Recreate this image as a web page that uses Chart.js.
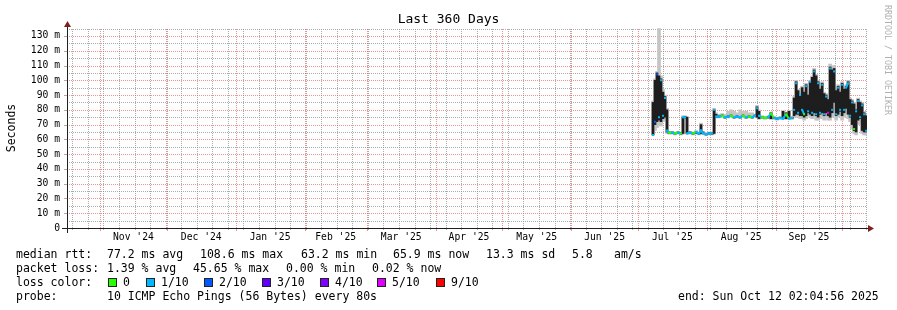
<!DOCTYPE html>
<html>
<head>
<meta charset="utf-8">
<title>Last 360 Days</title>
<script src="https://cdn.jsdelivr.net/npm/chart.js@4.4.1/dist/chart.umd.min.js"></script>
<style>
  html, body { margin: 0; padding: 0; background: #fff; }
  #chart { display: block; }
</style>
</head>
<body>
<canvas id="chart" width="897" height="310"></canvas>
<script>
// days since the start of the graph (Oct 17 2024 02:04)
const days = [
  263.7, 264.6, 265.5, 266.4, 267.3, 268.2, 269.1, 270.0, 270.9, 272.3,
  273.6, 275.0, 276.3, 277.2, 278.1, 279.0, 280.4, 281.7, 283.1, 284.4,
  285.3, 286.2, 287.6, 288.9, 290.3, 291.2, 292.1, 293.4, 294.8, 296.1,
  297.5, 298.8, 300.2, 301.5, 302.9, 304.2, 305.6, 306.9, 308.3, 309.6,
  310.5, 311.4, 312.8, 314.1, 315.5, 316.8, 318.2, 319.5, 320.9, 322.2,
  323.6, 324.9, 326.3, 327.2, 328.1, 329.0, 329.9, 330.8, 331.7, 332.6,
  333.5, 334.4, 335.3, 336.2, 337.1, 338.0, 338.9, 339.8, 340.7, 341.6,
  342.5, 343.4, 344.3, 345.2, 346.1, 347.0, 347.9, 348.8, 349.7, 350.6,
  351.5, 352.4, 353.3, 354.2, 355.1, 356.0, 356.9, 357.8, 358.7, 359.6
];

// rtt spread (ms), drawn black
const rttLow = [
  63, 70, 72, 73, 72, 74, 75, 65, 64, 64,
  63.5, 64, 63.5, 64, 74.5, 64, 64, 63.5, 64, 63.5,
  64, 64, 63, 63.5, 63.5, 64, 75, 75, 75.5, 74.5,
  75, 75.5, 74.5, 75, 74.5, 75.5, 74.5, 75, 74.5, 75.5,
  75, 74, 74.5, 74, 74.5, 74, 74, 73.5, 74, 74,
  74, 74, 74, 76, 77, 77, 76, 76, 75, 76,
  78, 77, 76, 78, 76, 75, 77, 78, 76, 78,
  76, 75, 78, 85, 76, 77, 79, 76, 78, 81,
  77, 75, 70, 66, 65, 73, 74, 66, 65, 65
];
const rttHigh = [
  85, 100, 105, 103, 101, 92, 89, 80, 65, 65,
  64.5, 65, 64.5, 75, 75.5, 75, 65, 64.5, 65, 64.5,
  70, 65, 64, 64.5, 64.5, 80, 77, 76, 76.5, 75.5,
  76, 76.5, 75.5, 76, 75.5, 76.5, 75.5, 76, 75.5, 76.5,
  82, 79, 75.5, 75, 75.5, 78, 75, 74.5, 75, 79,
  78, 79, 75, 88, 99, 93, 90, 95, 92, 97,
  90, 99, 102, 107, 103, 99, 94, 98, 91, 90,
  87, 109, 107, 108, 93, 96, 92, 98, 94, 96,
  99, 87, 86, 84, 80, 87, 85, 84, 78, 76
];

// median rtt (ms), coloured by packet loss
const median = [
  63, 72, 104, 75, 100, 76, 88, 66, 64.5, 64.5,
  64, 64.5, 64, 75, 75, 64, 64.5, 64, 65, 64,
  66, 64, 63.5, 64, 64, 80, 75.5, 75.5, 76, 75,
  75.5, 76, 75, 75.5, 75, 76, 75, 75.5, 75, 76,
  81, 76, 75, 74.5, 75, 77.5, 74.5, 74, 74.5, 74,
  77, 74, 74.5, 80, 98, 78, 90, 80, 77, 96,
  79, 99, 78, 106, 77, 98, 78, 97, 77, 89,
  78, 108, 80, 106, 77, 95, 80, 97, 80, 95,
  98, 76, 85, 67, 79, 86, 75, 83, 77, 65.9
];

// lost pings out of 10
const lossCount = [
  1, 2, 2, 1, 1, 1, 1, 1, 0, 1,
  0, 1, 0, 1, 1, 1, 1, 0, 1, 1,
  1, 1, 1, 1, 1, 1, 1, 1, 0, 1,
  1, 0, 1, 1, 1, 0, 1, 0, 1, 1,
  1, 1, 0, 0, 1, 0, 1, 1, 1, 1,
  0, 1, 1, 1, 1, 1, 1, 1, 0, 1,
  1, 1, 1, 1, 1, 1, 1, 1, 1, 1,
  5, 1, 1, 1, 1, 1, 1, 1, 1, 1,
  1, 1, 1, 0, 1, 1, 1, 1, 1, 1
];

// smoke (spread of single pings), drawn grey
const smokeLow = [
  63, 66, 68, 70, 69, 72, 73, 64, 63.5, 63.5,
  63, 63.5, 63, 63.5, 74, 63.5, 63.5, 63, 63.5, 63,
  63.5, 63.5, 62.5, 63, 63, 63.5, 74.5, 74.5, 75, 74,
  74.5, 75, 74, 74.5, 74, 75, 74, 74.5, 74, 75,
  74.5, 73.5, 74, 73.5, 74, 73.5, 73.5, 73, 73.5, 73.5,
  73.5, 73.5, 73.5, 75, 75, 75, 74, 74, 73, 74,
  76, 75, 74, 75, 73, 73, 74, 75, 73, 75,
  73, 73, 75, 80, 73, 75, 76, 73, 75, 77,
  74, 72, 67, 64, 63, 70, 71, 64, 63, 63
];
const smokeHigh = [
  86, 101, 106, 135, 103, 94, 90, 81, 65.5, 65.5,
  65, 65.5, 65, 76, 76, 75.5, 65.5, 65, 66, 65,
  71, 65.5, 64.5, 65, 65, 81, 78, 77, 77.5, 77,
  79, 80, 79, 78, 80, 79, 79, 78, 78, 77,
  83, 80, 76, 75.5, 76, 78.5, 75.5, 75, 75.5, 79.5,
  78.5, 79.5, 75.5, 89, 100, 94, 91, 96, 93, 98,
  91, 100, 103, 108, 104, 100, 95, 99, 92, 91,
  88, 111, 109, 110, 94, 97, 93, 99, 95, 97,
  100, 88, 87, 85, 81, 88, 86, 85, 79, 77
];

// x axis: month starts (days since start) and their labels
const monthStarts = [14.9, 44.9, 75.9, 106.9, 134.9, 165.9, 195.9, 226.9, 256.9, 287.9, 318.9, 348.9];
const monthLabels = ["Nov '24", "Dec '24", "Jan '25", "Feb '25", "Mar '25", "Apr '25",
                     "May '25", "Jun '25", "Jul '25", "Aug '25", "Sep '25"];
const firstWeek = 2.4;

// y axis ticks (ms)
const yTicks = [0, 10, 20, 30, 40, 50, 60, 70, 80, 90, 100, 110, 120, 130];
const yMinorTicks = [5, 15, 25, 35, 45, 55, 65, 75, 85, 95, 105, 115, 125, 135];

// loss colour legend
const lossSteps = [0, 1, 2, 3, 4, 5, 9];
const lossNames = ['0', '1/10', '2/10', '3/10', '4/10', '5/10', '9/10'];
const lossColors = ['#26ff00', '#00b8ff', '#0059ff', '#5e00ff', '#7e00ff', '#dd00ff', '#ff0000'];

function lossColor(n) {
  let c = lossColors[0];
  lossSteps.forEach((s, i) => { if (n >= s) c = lossColors[i]; });
  return c;
}

const labelDays = monthLabels.map((_, i) => (monthStarts[i] + monthStarts[i + 1]) / 2);
const weekDays = [];
for (let d = firstWeek; d < 360; d += 7) weekDays.push(d);

const pts = arr => days.map((d, i) => ({ x: d, y: arr[i] }));
const spans = (lo, hi) => days.map((d, i) => ({ x: d, y: [lo[i], hi[i]] }));

const MONO = '"DejaVu Sans Mono", monospace';
// rrdtool default grid colours
const RED_GRID = 'rgba(222, 79, 79, 0.6)';
const GREY_GRID = 'rgba(143, 143, 143, 0.75)';
const AXIS = '#1f1f1f';
const ARROW = '#801f1f';
const BLACK = '#1e1e1e';

// dotted rrdtool grid, drawn from the chart's own scales
const rrdGrid = {
  id: 'rrdGrid',
  beforeDatasetsDraw(chart) {
    const { ctx, chartArea: a, scales: { x, y } } = chart;
    const top = Math.round(a.top), bottom = Math.round(a.bottom);
    const left = Math.round(a.left), right = Math.round(a.right);
    const vline = (v, color) => {
      const px = Math.round(x.getPixelForValue(v)) + 0.5;
      ctx.strokeStyle = color;
      ctx.beginPath();
      ctx.moveTo(px, bottom);
      ctx.lineTo(px, top);
      ctx.stroke();
    };
    const hline = (v, color) => {
      const py = Math.round(y.getPixelForValue(v)) + 0.5;
      ctx.strokeStyle = color;
      ctx.beginPath();
      ctx.moveTo(left, py);
      ctx.lineTo(right, py);
      ctx.stroke();
    };
    ctx.save();
    ctx.lineWidth = 1;
    ctx.setLineDash([1, 1]);
    weekDays.forEach(d => vline(d, GREY_GRID));
    yMinorTicks.forEach(v => hline(v, GREY_GRID));
    monthStarts.forEach(d => vline(d, RED_GRID));
    yTicks.forEach(v => { if (v > 0) hline(v, RED_GRID); });

    // small tick marks outside the plot
    ctx.setLineDash([]);
    const tick = (x1, y1, x2, y2, color) => {
      ctx.strokeStyle = color;
      ctx.beginPath();
      ctx.moveTo(x1, y1);
      ctx.lineTo(x2, y2);
      ctx.stroke();
    };
    weekDays.forEach(d => {
      const px = Math.round(x.getPixelForValue(d)) + 0.5;
      tick(px, bottom, px, bottom + 2, GREY_GRID);
    });
    monthStarts.forEach(d => {
      const px = Math.round(x.getPixelForValue(d)) + 0.5;
      tick(px, bottom, px, bottom + 3, RED_GRID);
    });
    yTicks.forEach(v => {
      const py = Math.round(y.getPixelForValue(v)) + 0.5;
      tick(left - 3, py, left, py, GREY_GRID);
    });
    ctx.restore();
  }
};

// title, axis titles, arrows and the rrdtool style legend
const rrdDecor = {
  id: 'rrdDecor',
  afterDraw(chart) {
    const { ctx, chartArea: a } = chart;
    ctx.save();

    // axis lines
    ctx.lineWidth = 1;
    ctx.strokeStyle = AXIS;
    ctx.beginPath();
    ctx.moveTo(a.left - 5, a.bottom + 0.5);
    ctx.lineTo(a.right + 1, a.bottom + 0.5);
    ctx.moveTo(a.left + 0.5, a.bottom + 5);
    ctx.lineTo(a.left + 0.5, a.top - 4);
    ctx.stroke();

    // arrows
    ctx.fillStyle = ARROW;
    ctx.beginPath();
    ctx.moveTo(a.left - 3, a.top - 1);
    ctx.lineTo(a.left + 4, a.top - 1);
    ctx.lineTo(a.left + 0.5, a.top - 7);
    ctx.closePath();
    ctx.fill();
    ctx.beginPath();
    ctx.moveTo(a.right + 1, a.bottom - 3);
    ctx.lineTo(a.right + 1, a.bottom + 4);
    ctx.lineTo(a.right + 7, a.bottom + 0.5);
    ctx.closePath();
    ctx.fill();

    // title
    ctx.fillStyle = '#000';
    ctx.font = '13px ' + MONO;
    ctx.textAlign = 'center';
    ctx.textBaseline = 'alphabetic';
    ctx.fillText('Last 360 Days', chart.width / 2, 23);

    // y axis title
    ctx.save();
    ctx.font = '11.5px ' + MONO;
    ctx.translate(15, 128);
    ctx.rotate(-Math.PI / 2);
    ctx.fillText('Seconds', 0, 0);
    ctx.restore();

    // watermark
    ctx.save();
    ctx.font = '8.3px ' + MONO;
    ctx.fillStyle = '#b0b0b0';
    ctx.textAlign = 'left';
    ctx.translate(885, 5);
    ctx.rotate(Math.PI / 2);
    ctx.fillText('RRDTOOL / TOBI OETIKER', 0, 0);
    ctx.restore();

    // legend
    ctx.font = '11.5px ' + MONO;
    ctx.textAlign = 'left';
    ctx.fillStyle = '#000';
    const rows = [
      [258, [[16, 'median rtt:'], [107, '77.2 ms avg'], [200, '108.6 ms max'], [301, '63.2 ms min'],
             [393, '65.9 ms now'], [486, '13.3 ms sd'], [572, '5.8'], [614, 'am/s']]],
      [272, [[16, 'packet loss:'], [107, '1.39 % avg'], [193, '45.65 % max'], [286, '0.00 % min'],
             [372, '0.02 % now']]],
      [286, [[16, 'loss color:']]],
      [300, [[16, 'probe:'], [107, '10 ICMP Echo Pings (56 Bytes) every 80s'],
             [678, 'end: Sun Oct 12 02:04:56 2025']]]
    ];
    rows.forEach(([y, items]) => items.forEach(([x, t]) => ctx.fillText(t, x, y)));

    const boxX = [108, 146, 204, 262, 320, 377, 436];
    lossNames.forEach((name, i) => {
      ctx.fillStyle = lossColors[i];
      ctx.fillRect(boxX[i], 278, 9, 9);
      ctx.strokeStyle = '#222';
      ctx.strokeRect(boxX[i] + 0.5, 278.5, 8, 8);
      ctx.fillStyle = '#000';
      ctx.fillText(name, boxX[i] + 15, 286);
    });

    ctx.restore();
  }
};

Chart.defaults.font.family = MONO;
Chart.defaults.color = '#000';

// the median line is only joined where it stays flat; spikes show as dots
const isJump = c => Math.abs(median[c.p1DataIndex] - median[c.p0DataIndex]) > 3;

new Chart(document.getElementById('chart'), {
  type: 'line',
  data: {
    datasets: [
      {
        label: 'median rtt',
        data: pts(median),
        borderWidth: 2,
        borderColor: lossColors[1],
        segment: {
          borderColor: c => (isJump(c) ? 'rgba(0,0,0,0)' : lossColor(lossCount[c.p0DataIndex]))
        },
        pointStyle: 'rect',
        pointRadius: 1.4,
        pointBorderWidth: 0,
        pointBackgroundColor: c => lossColor(lossCount[c.dataIndex]),
        tension: 0,
        fill: false
      },
      {
        type: 'bar',
        label: 'rtt spread',
        data: spans(rttLow, rttHigh),
        backgroundColor: BLACK,
        borderWidth: 0,
        barThickness: 2,
        grouped: false
      },
      {
        type: 'bar',
        label: 'smoke',
        data: spans(smokeLow, smokeHigh),
        backgroundColor: '#c4c4c4',
        borderWidth: 0,
        barThickness: 3,
        grouped: false
      }
    ]
  },
  options: {
    responsive: false,
    animation: false,
    events: [],
    layout: { padding: { top: 28, right: 30, bottom: 62, left: 0 } },
    plugins: {
      legend: { display: false },
      tooltip: { enabled: false },
      title: { display: false }
    },
    scales: {
      x: {
        type: 'linear',
        position: 'bottom',
        offset: false,
        min: 0,
        max: 360,
        grid: { display: false, drawTicks: false },
        border: { display: false },
        ticks: {
          autoSkip: false,
          maxRotation: 0,
          padding: 4,
          font: { size: 9.7 },
          callback: (v, i) => monthLabels[i]
        },
        afterBuildTicks: s => { s.ticks = labelDays.map(v => ({ value: v })); },
        afterFit: s => { s.height = 20; }
      },
      y: {
        type: 'linear',
        position: 'left',
        min: 0,
        max: 135.4,
        grid: { display: false, drawTicks: false },
        border: { display: false },
        ticks: {
          padding: 7,
          font: { size: 9.7 },
          callback: v => (v === 0 ? '0' : v + ' m')
        },
        afterBuildTicks: s => { s.ticks = yTicks.map(v => ({ value: v })); },
        afterFit: s => { s.width = 67; }
      }
    }
  },
  plugins: [rrdGrid, rrdDecor]
});
</script>
</body>
</html>
